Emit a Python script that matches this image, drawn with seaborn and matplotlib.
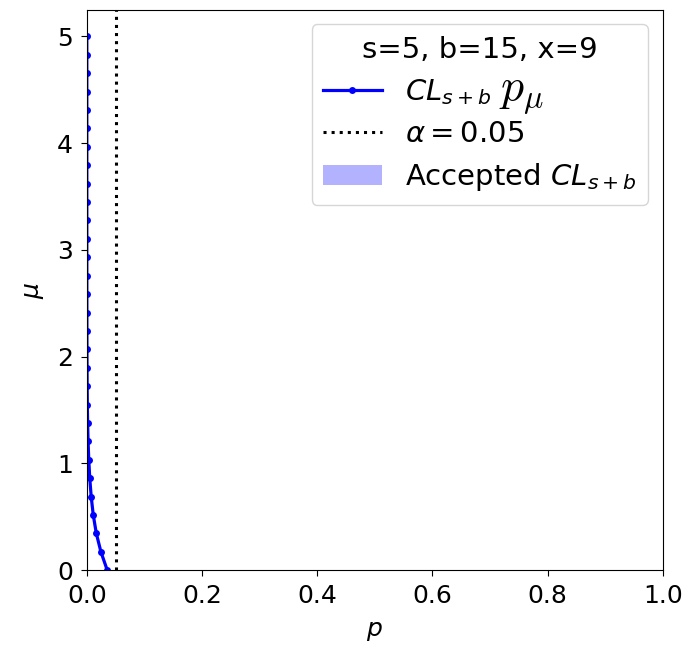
import numpy as np
import pandas as pd
import matplotlib
matplotlib.use("Agg")
import matplotlib.pyplot as plt
import seaborn as sns

mu_values = [0.0, 0.172, 0.345, 0.517, 0.690, 0.862, 1.034, 1.207, 1.379, 1.552,
             1.724, 1.897, 2.069, 2.241, 2.414, 2.586, 2.759, 2.931, 3.103, 3.276,
             3.448, 3.621, 3.793, 3.966, 4.138, 4.310, 4.483, 4.655, 4.828, 5.0]
p_values = [0.0355, 0.0245, 0.0165, 0.0112, 0.0076, 0.0051, 0.0034, 0.0022, 0.0014, 0.0009,
            0.0006, 0.0004, 0.00025, 0.00016, 0.0001, 0.00006, 0.00004, 0.00002, 0.00001, 0.00001,
            0.0, 0.0, 0.0, 0.0, 0.0, 0.0, 0.0, 0.0, 0.0, 0.0]
alpha_level = 0.05
legend_title = "s=5, b=15, x=9"

df = pd.DataFrame({"p": p_values, "mu": mu_values})

fig, ax = plt.subplots(figsize=(6.89, 6.48), dpi=100)
sns.lineplot(data=df, x="p", y="mu", sort=False, estimator=None, color="blue",
             linewidth=2.3, marker="o", markersize=5, markeredgewidth=0,
             label=r"$CL_{s+b}$", ax=ax)
ax.axvline(alpha_level, color="black", linestyle=":", linewidth=2.2,
           label=r"$\alpha = 0.05$")
p_arr = np.array(p_values)
ax.fill_betweenx(mu_values, 0, p_values, where=p_arr > alpha_level, color="blue",
                 alpha=0.3, linewidth=0, label=r"Accepted $CL_{s+b}$")
ax.set_xlim(0, 1)
ax.set_ylim(0, 5.25)
ax.set_xlabel(r"$p$", fontsize=18, labelpad=8)
ax.set_ylabel(r"$\mu$", fontsize=18, labelpad=8)
ax.tick_params(labelsize=18, length=4.3, pad=5.5)
leg = ax.legend(title=legend_title, fontsize=21, title_fontsize=21, loc="upper right",
                labelspacing=0.45)

plt.subplots_adjust(left=0.126, right=0.962, top=0.985, bottom=0.12)

# place a larger serif p_mu right after the first legend label
fig.canvas.draw()
t0 = leg.get_texts()[0]
bb = t0.get_window_extent()
base = t0.get_transform().transform(t0.get_position())
x_fig, y_fig = fig.transFigure.inverted().transform((bb.x1 + 8, base[1]))
fig.text(x_fig, y_fig, r"$p_{\mu}$", fontsize=33, math_fontfamily="cm",
         ha="left", va="baseline")

fig.savefig("out.png", dpi=100)
